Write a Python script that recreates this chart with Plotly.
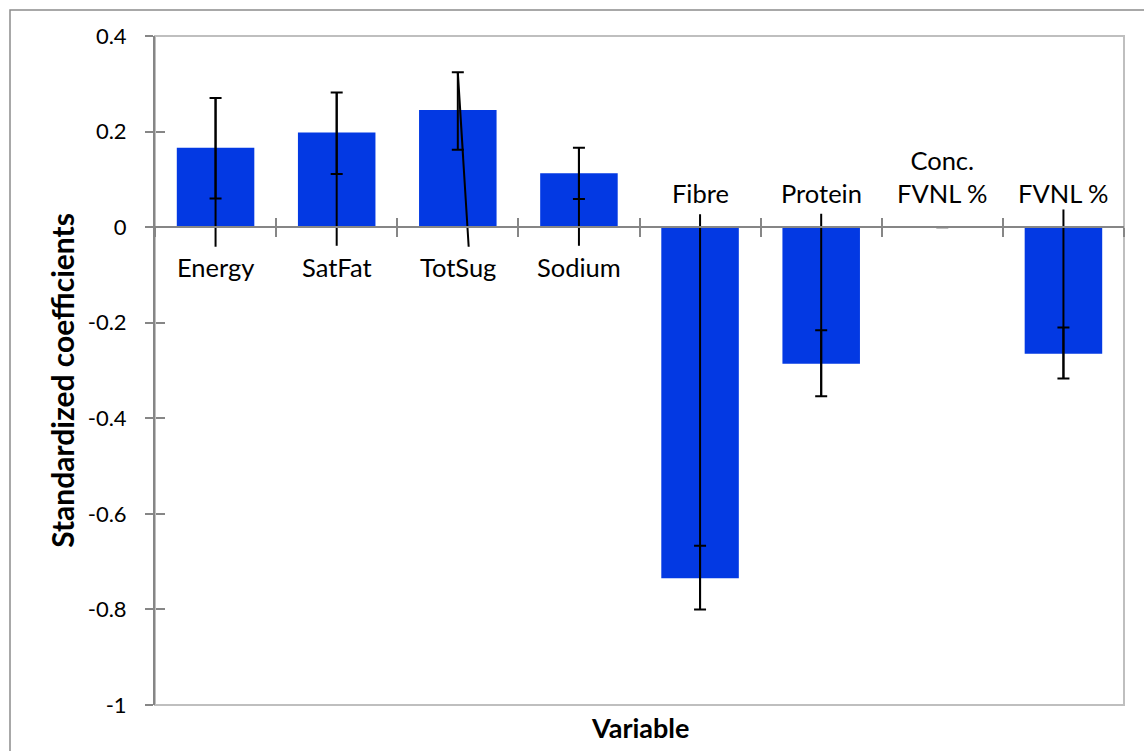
import plotly.graph_objects as go

# ---- data ----
categories = ["Energy", "SatFat", "TotSug", "Sodium", "Fibre", "Protein", "Conc.<br>FVNL %", "FVNL %"]
coef = [0.166, 0.198, 0.245, 0.113, -0.735, -0.286, 0.0, -0.265]
ci_high = [0.270, 0.282, 0.324, 0.166, -0.667, -0.216, 0.0, -0.210]
ci_low = [0.060, 0.111, 0.162, 0.059, -0.800, -0.354, 0.0, -0.317]
# the extra whisker line that runs past the zero line in the original
tail_end = [-0.041, -0.039, -0.041, -0.039, 0.027, 0.028, None, 0.037]
tail_shift = [0, 0, 0.09, 0, 0, 0, 0, 0]
y_tick_vals = [0.4, 0.2, 0, -0.2, -0.4, -0.6, -0.8, -1]
y_tick_text = ["0.4", "0.2", "0", "-0.2", "-0.4", "-0.6", "-0.8", "-1"]
y_range = [-1, 0.4]

FONT = "Lato"
AXIS_GREY = "#868686"
BAR_BLUE = "#0339E3"

idx = list(range(len(categories)))
x_range = [-0.5, len(categories) - 0.5]
boundaries = [i - 0.5 for i in range(len(categories) + 1)]
zero_pos = (0 - y_range[0]) / (y_range[1] - y_range[0])

fig = go.Figure()

fig.add_trace(go.Bar(
    x=idx, y=coef, width=0.64,
    marker=dict(color=BAR_BLUE, line=dict(width=0)),
    hoverinfo="skip",
))

# error bars with caps (hi / lo)
mid = [(h + l) / 2 for h, l in zip(ci_high, ci_low)]
half = [(h - l) / 2 for h, l in zip(ci_high, ci_low)]
fig.add_trace(go.Scatter(
    x=idx, y=mid, mode="markers",
    marker=dict(size=1, opacity=0),
    error_y=dict(type="data", symmetric=True, array=half,
                 color="black", thickness=2, width=6),
    hoverinfo="skip",
))

# tail lines
lx, ly = [], []
for i, c, h, l, t, s in zip(idx, coef, ci_high, ci_low, tail_end, tail_shift):
    if t is None:
        continue
    start = h if c >= 0 else l
    lx += [i, i + s, None]
    ly += [start, t, None]
fig.add_trace(go.Scatter(
    x=lx, y=ly, mode="lines",
    line=dict(color="black", width=2),
    hoverinfo="skip",
))

# dummy trace for overlay axes (cross ticks)
fig.add_trace(go.Scatter(x=[None], y=[None], xaxis="x2", yaxis="y2",
                         showlegend=False, hoverinfo="skip"))

# category labels next to the zero line
annotations = []
for i, c, name in zip(idx, coef, categories):
    if c > 0:
        annotations.append(dict(x=i, y=0, xref="x", yref="y", text=name,
                                showarrow=False, yanchor="top", yshift=-23,
                                font=dict(family=FONT, size=25.5, color="black")))
    else:
        annotations.append(dict(x=i, y=0, xref="x", yref="y", text=name,
                                showarrow=False, yanchor="bottom", yshift=17,
                                font=dict(family=FONT, size=25.5, color="black")))

annotations.append(dict(text="<b>Standardized coefficients</b>", xref="paper", yref="paper",
                        x=-0.096, y=0.486, textangle=-90, showarrow=False,
                        xanchor="center", yanchor="middle",
                        font=dict(family=FONT, size=30, color="black")))
annotations.append(dict(text="<b>Variable</b>", xref="paper", yref="paper",
                        x=0.5, y=-0.034, showarrow=False,
                        xanchor="center", yanchor="middle",
                        font=dict(family=FONT, size=27, color="black")))

fig.update_layout(
    width=1144, height=751,
    margin=dict(l=155, r=20, t=36, b=46),
    plot_bgcolor="white", paper_bgcolor="white",
    showlegend=False,
    font=dict(family=FONT, size=22, color="black"),
    xaxis=dict(range=x_range, tickvals=boundaries, showticklabels=False,
               ticks="outside", ticklen=9, tickwidth=2, tickcolor=AXIS_GREY,
               showline=True, linecolor=AXIS_GREY, linewidth=2,
               anchor="free", position=zero_pos,
               showgrid=False, zeroline=False, fixedrange=True),
    xaxis2=dict(overlaying="x", matches="x", anchor="free", position=zero_pos,
                tickvals=boundaries, showticklabels=False,
                ticks="inside", ticklen=9, tickwidth=2, tickcolor=AXIS_GREY,
                showline=False, showgrid=False, zeroline=False),
    yaxis=dict(range=y_range, tickvals=y_tick_vals, ticktext=y_tick_text,
               ticks="outside", ticklen=8, tickwidth=2, tickcolor=AXIS_GREY,
               showline=True, linecolor=AXIS_GREY, linewidth=2,
               showgrid=False, zeroline=False, ticklabelstandoff=14,
               tickfont=dict(family=FONT, size=22, color="black")),
    yaxis2=dict(overlaying="y", matches="y", anchor="free", position=0,
                tickvals=y_tick_vals, showticklabels=False,
                ticks="inside", ticklen=9, tickwidth=2, tickcolor=AXIS_GREY,
                showline=False, showgrid=False, zeroline=False),
    annotations=annotations,
    shapes=[
        dict(type="rect", xref="paper", yref="paper", x0=0, x1=1, y0=0, y1=1,
             line=dict(color="#BFBFBF", width=2), layer="below"),
        dict(type="rect", xref="paper", yref="paper",
             x0=(10 - 155) / 969, x1=1.05, y0=-0.1, y1=(705 - 10) / 669,
             line=dict(color="#8C8C8C", width=1.5), layer="below"),
    ],
)

fig.write_html("out.html")
